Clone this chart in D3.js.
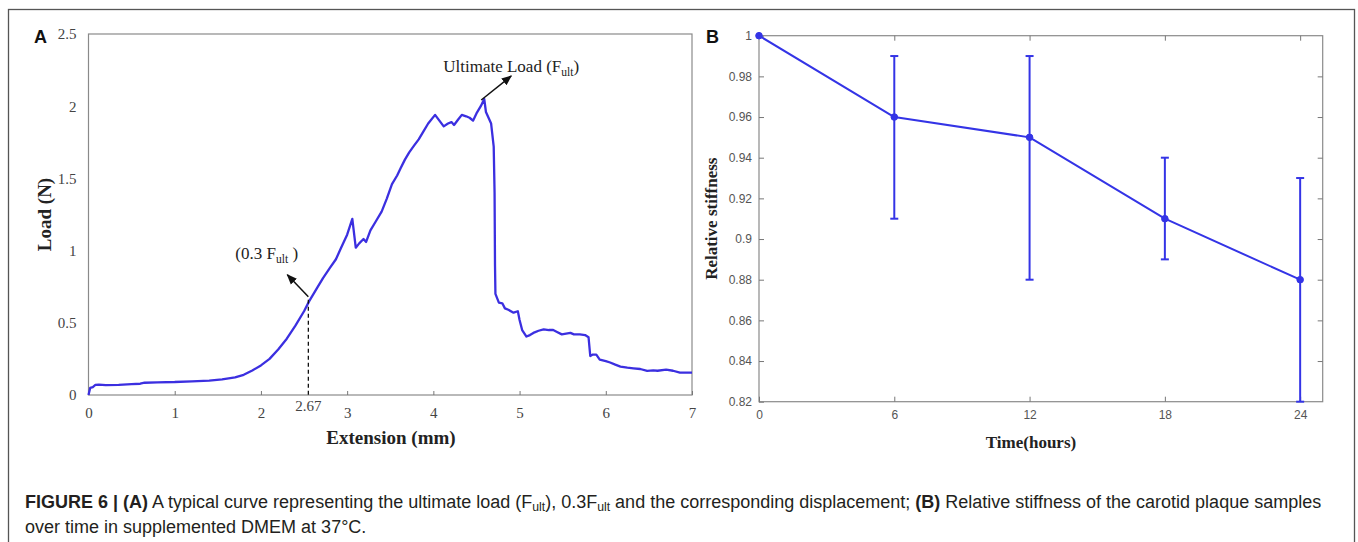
<!DOCTYPE html>
<html>
<head>
<meta charset="utf-8">
<script src="https://cdn.jsdelivr.net/npm/d3@7"></script>
<style>
  html, body { margin: 0; padding: 0; background: #fff; }
  svg { display: block; }
</style>
</head>
<body>
<svg id="fig" width="1358" height="542"></svg>
<script>
// ---------- Panel A data: load–extension curve ----------
const extension = [0.00,0.02,0.05,0.08,0.12,0.20,0.35,0.50,0.60,0.65,0.80,1.00,1.20,1.40,1.55,1.70,1.80,1.90,2.00,2.10,
  2.20,2.30,2.40,2.50,2.56,2.65,2.72,2.80,2.87,2.93,3.00,3.06,3.10,3.14,3.19,3.22,3.27,3.33,3.40,3.46,
  3.52,3.58,3.62,3.67,3.72,3.78,3.83,3.88,3.94,4.02,4.07,4.12,4.17,4.21,4.24,4.29,4.33,4.38,4.42,4.46,
  4.50,4.55,4.59,4.61,4.64,4.67,4.70,4.71,4.715,4.72,4.76,4.80,4.83,4.87,4.93,4.98,5.00,5.03,5.08,5.12,
  5.16,5.22,5.28,5.34,5.39,5.44,5.49,5.54,5.59,5.63,5.70,5.76,5.80,5.82,5.85,5.89,5.93,6.00,6.05,6.11,
  6.17,6.25,6.32,6.40,6.48,6.55,6.60,6.70,6.78,6.86,7.00];
const load = [0.00,0.05,0.055,0.07,0.072,0.068,0.07,0.075,0.078,0.085,0.088,0.09,0.095,0.10,0.108,0.122,0.14,0.17,0.205,0.25,
  0.315,0.39,0.48,0.58,0.65,0.74,0.81,0.88,0.94,1.02,1.11,1.22,1.02,1.05,1.08,1.06,1.14,1.20,1.27,1.36,
  1.46,1.52,1.57,1.63,1.68,1.73,1.77,1.82,1.88,1.94,1.90,1.86,1.88,1.89,1.87,1.91,1.94,1.93,1.92,1.90,
  1.95,2.00,2.05,1.96,1.92,1.88,1.72,1.40,0.90,0.70,0.64,0.635,0.60,0.59,0.57,0.58,0.52,0.45,0.405,0.415,
  0.43,0.445,0.455,0.45,0.45,0.435,0.42,0.425,0.43,0.42,0.42,0.415,0.40,0.27,0.28,0.28,0.245,0.235,0.225,0.21,
  0.197,0.19,0.185,0.18,0.167,0.17,0.168,0.175,0.168,0.155,0.155];
const xTicksA = [0,1,2,3,4,5,6,7];
const yTicksA = [0,0.5,1,1.5,2,2.5];
const ultimatePoint = {x: 4.59, y: 2.05};
const point03 = {x: 2.55, y: 0.66};
const point03Label = "2.67";

// ---------- Panel B data: relative stiffness ----------
const hours = [0,6,12,18,24];
const stiffness = [1.00,0.96,0.95,0.91,0.88];
const errLow  = [1.00,0.91,0.88,0.89,0.82];
const errHigh = [1.00,0.99,0.99,0.94,0.93];
const xTicksB = [0,6,12,18,24];
const yTicksB = [0.82,0.84,0.86,0.88,0.9,0.92,0.94,0.96,0.98,1];

const svg = d3.select("#fig");
const serif = "'Liberation Serif','Times New Roman',serif";
const sans = "'Liberation Sans',Arial,sans-serif";
const blueA = "#3b2fe0";
const blueB = "#3434e6";

// outer border
svg.append("rect").attr("x",8.5).attr("y",9.5).attr("width",1346).attr("height",560)
  .attr("fill","none").attr("stroke","#555").attr("stroke-width",1.3);

// arrow marker
svg.append("defs").append("marker").attr("id","arr").attr("viewBox","0 0 10 10")
  .attr("refX",9).attr("refY",5).attr("markerWidth",7).attr("markerHeight",7)
  .attr("orient","auto-start-reverse")
  .append("path").attr("d","M0,1 L10,5 L0,9 z").attr("fill","#111");

// ================= Panel A =================
const A = {l:88.5, r:692, t:34, b:395};
const xA = d3.scaleLinear().domain([0,7]).range([A.l,A.r]);
const yA = d3.scaleLinear().domain([0,2.5]).range([A.b,A.t]);

svg.append("rect").attr("x",A.l).attr("y",A.t).attr("width",A.r-A.l).attr("height",A.b-A.t)
  .attr("fill","none").attr("stroke","#8a8a8a").attr("stroke-width",1.2);

const gxA = svg.append("g").attr("transform",`translate(0,${A.b})`)
  .call(d3.axisBottom(xA).tickValues(xTicksA).tickSizeInner(-4).tickSizeOuter(0).tickPadding(12.5).tickFormat(d3.format("d")));
const gyA = svg.append("g").attr("transform",`translate(${A.l},0)`)
  .call(d3.axisLeft(yA).tickValues(yTicksA).tickSize(0).tickPadding(12).tickFormat(d => d));
[gxA,gyA].forEach(g => {
  g.select(".domain").remove();
  g.selectAll("line").attr("stroke","#777");
  g.selectAll("text").attr("font-family",serif).attr("font-size",15).attr("fill","#444");
});

const lineA = d3.line().x((d,i)=>xA(extension[i])).y((d,i)=>yA(load[i]));
svg.append("path").datum(load).attr("d",lineA).attr("fill","none")
  .attr("stroke",blueA).attr("stroke-width",2.3).attr("stroke-linejoin","round");

// dashed line at 0.3 Fult
svg.append("line").attr("x1",xA(point03.x)).attr("x2",xA(point03.x))
  .attr("y1",yA(point03.y)).attr("y2",A.b)
  .attr("stroke","#111").attr("stroke-width",1.3).attr("stroke-dasharray","4,3");
svg.append("text").attr("x",xA(point03.x)).attr("y",A.b+16).attr("text-anchor","middle")
  .attr("font-family",serif).attr("font-size",15).attr("fill","#444").text(point03Label);

// arrows
svg.append("line").attr("x1",xA(point03.x)).attr("y1",yA(point03.y)-3)
  .attr("x2",xA(point03.x)-21).attr("y2",yA(point03.y)-25)
  .attr("stroke","#111").attr("stroke-width",1.5).attr("marker-end","url(#arr)");
svg.append("line").attr("x1",xA(ultimatePoint.x)-3).attr("y1",yA(ultimatePoint.y)+1)
  .attr("x2",xA(ultimatePoint.x)+27).attr("y2",yA(ultimatePoint.y)-23)
  .attr("stroke","#111").attr("stroke-width",1.5).attr("marker-end","url(#arr)");

function subText(x, y, parts, size, anchor) {
  const t = svg.append("text").attr("x",x).attr("y",y).attr("font-family",serif)
    .attr("font-size",size).attr("fill","#222").attr("text-anchor",anchor||"start");
  parts.forEach(p => {
    const s = t.append("tspan").text(p.t);
    if (p.sub) s.attr("font-size",size*0.68).attr("dy",4);
    if (p.up) s.attr("dy",-4);
  });
  return t;
}
subText(xA(ultimatePoint.x)-41, yA(ultimatePoint.y)-27,
  [{t:"Ultimate Load (F"},{t:"ult",sub:true},{t:")",up:true}], 17);
subText(xA(point03.x)-73, yA(point03.y)-41,
  [{t:"(0.3 F"},{t:"ult",sub:true},{t:" )",up:true}], 17);

// axis titles
svg.append("text").attr("transform",`translate(44,${(A.t+A.b)/2}) rotate(-90)`)
  .attr("text-anchor","middle").attr("dominant-baseline","central")
  .attr("font-family",serif).attr("font-weight","bold").attr("font-size",19).attr("fill","#222").text("Load (N)");
svg.append("text").attr("x",391).attr("y",444).attr("text-anchor","middle")
  .attr("font-family",serif).attr("font-weight","bold").attr("font-size",19).attr("fill","#222").text("Extension (mm)");
svg.append("text").attr("x",34).attr("y",43).attr("font-family",sans).attr("font-weight","bold")
  .attr("font-size",18).attr("fill","#111").text("A");

// ================= Panel B =================
const B = {l:759, r:1322.7, t:35.7, b:401.7};
const xB = d3.scaleLinear().domain([0,25]).range([B.l,B.r]);
const yB = d3.scaleLinear().domain([0.82,1]).range([B.b,B.t]);

svg.append("rect").attr("x",B.l).attr("y",B.t).attr("width",B.r-B.l).attr("height",B.b-B.t)
  .attr("fill","none").attr("stroke","#8a8a8a").attr("stroke-width",1.2);

const gxB = svg.append("g").attr("transform",`translate(0,${B.b})`)
  .call(d3.axisBottom(xB).tickValues(xTicksB).tickSizeInner(-5).tickSizeOuter(0).tickPadding(9));
const gyB = svg.append("g").attr("transform",`translate(${B.l},0)`)
  .call(d3.axisLeft(yB).tickValues(yTicksB).tickSizeInner(-5).tickSizeOuter(0).tickPadding(7).tickFormat(d => d3.format("")(+d.toFixed(2))));
const gxBt = svg.append("g").attr("transform",`translate(0,${B.t})`)
  .call(d3.axisTop(xB).tickValues(xTicksB.slice(1)).tickSizeInner(-5).tickSizeOuter(0).tickFormat(""));
const gyBr = svg.append("g").attr("transform",`translate(${B.r},0)`)
  .call(d3.axisRight(yB).tickValues(yTicksB.slice(1,-1)).tickSizeInner(-5).tickSizeOuter(0).tickFormat(""));
[gxB,gyB,gxBt,gyBr].forEach(g => {
  g.select(".domain").remove();
  g.selectAll("line").attr("stroke","#777");
  g.selectAll("text").attr("font-family",sans).attr("font-size",12).attr("fill","#555");
});

// error bars
const eb = svg.append("g").attr("stroke",blueB).attr("stroke-width",2);
hours.forEach((h,i) => {
  if (errHigh[i] === errLow[i]) return;
  eb.append("line").attr("x1",xB(h)).attr("x2",xB(h)).attr("y1",yB(errLow[i])).attr("y2",yB(errHigh[i]));
  eb.append("line").attr("x1",xB(h)-4).attr("x2",xB(h)+4).attr("y1",yB(errLow[i])).attr("y2",yB(errLow[i]));
  eb.append("line").attr("x1",xB(h)-4).attr("x2",xB(h)+4).attr("y1",yB(errHigh[i])).attr("y2",yB(errHigh[i]));
});
const lineB = d3.line().x((d,i)=>xB(hours[i])).y(d=>yB(d));
svg.append("path").datum(stiffness).attr("d",lineB).attr("fill","none")
  .attr("stroke",blueB).attr("stroke-width",2).attr("stroke-linejoin","round");
svg.append("g").selectAll("circle").data(stiffness).join("circle")
  .attr("cx",(d,i)=>xB(hours[i])).attr("cy",d=>yB(d)).attr("r",3.3)
  .attr("fill",blueB).attr("stroke",blueB).attr("stroke-width",1);

svg.append("text").attr("transform",`translate(711,${(B.t+B.b)/2}) rotate(-90)`)
  .attr("text-anchor","middle").attr("dominant-baseline","central")
  .attr("font-family",serif).attr("font-weight","bold").attr("font-size",17).attr("fill","#222").text("Relative stiffness");
svg.append("text").attr("x",1031).attr("y",448).attr("text-anchor","middle")
  .attr("font-family",serif).attr("font-weight","bold").attr("font-size",17).attr("fill","#222").text("Time(hours)");
svg.append("text").attr("x",706).attr("y",43).attr("font-family",sans).attr("font-weight","bold")
  .attr("font-size",18).attr("fill","#111").text("B");

// ================= Caption =================
function caption(y, parts) {
  const t = svg.append("text").attr("x",25).attr("y",y).attr("font-family",sans)
    .attr("font-size",16).attr("fill","#231f20");
  parts.forEach(p => {
    const s = t.append("tspan").text(p.t);
    if (p.b) s.attr("font-weight","bold");
    if (p.sub) s.attr("font-size",11).attr("dy",3);
    if (p.up) s.attr("dy",-3);
  });
  return t;
}
const cap1 = caption(508, [
  {t:"FIGURE 6 | (A)",b:true},{t:" A typical curve representing the ultimate load (F"},{t:"ult",sub:true},
  {t:"), 0.3F",up:true},{t:"ult",sub:true},{t:" and the corresponding displacement; ",up:true},
  {t:"(B)",b:true},{t:" Relative stiffness of the carotid plaque samples"}]);
const cap2 = caption(533, [{t:"over time in supplemented DMEM at 37°C."}]);
const w = cap1.node().getComputedTextLength();
const fs = Math.min(18, 16 * 1312 / w);
[cap1,cap2].forEach(c => {
  c.attr("font-size",fs);
  c.selectAll("tspan").filter(function(){return d3.select(this).attr("font-size")==="11";}).attr("font-size",fs*0.68);
});
</script>
</body>
</html>
